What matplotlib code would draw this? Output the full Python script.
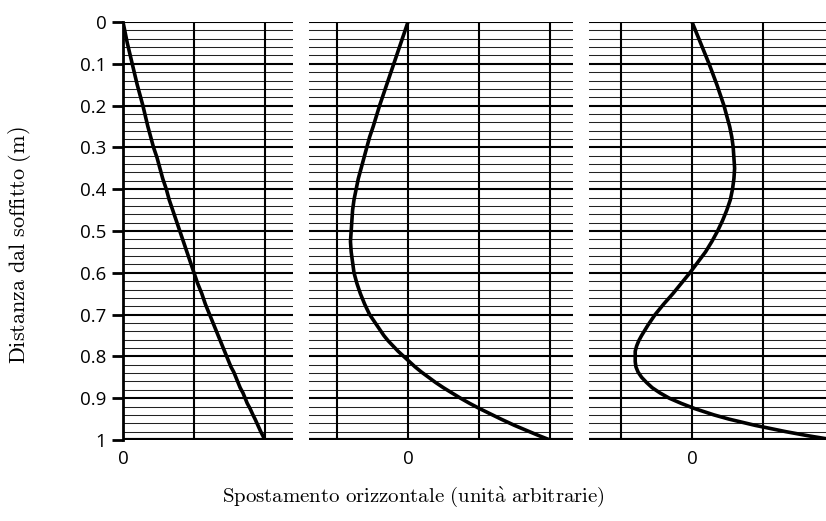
import matplotlib
matplotlib.use("Agg")
import matplotlib.pyplot as plt

plt.rcParams["mathtext.fontset"] = "cm"

# Depth below the ceiling (m)
depth = [0.0, 0.05, 0.1, 0.15, 0.2, 0.25, 0.275, 0.3, 0.325, 0.35, 0.375, 0.4,
         0.425, 0.45, 0.475, 0.5, 0.525, 0.55, 0.575, 0.6, 0.625, 0.65, 0.675,
         0.7, 0.725, 0.75, 0.7625, 0.775, 0.7875, 0.8, 0.8125, 0.825, 0.8375,
         0.85, 0.8625, 0.875, 0.8875, 0.9, 0.9125, 0.925, 0.94, 0.95, 0.965,
         0.98, 0.99, 1.0]

# Horizontal displacement of the first three modes (arbitrary units)
mode1 = [0.00, 0.06, 0.13, 0.20, 0.28, 0.35, 0.39, 0.43, 0.48, 0.52, 0.56, 0.61,
         0.65, 0.70, 0.75, 0.80, 0.85, 0.90, 0.95, 1.00, 1.05, 1.11, 1.16,
         1.22, 1.28, 1.34, 1.37, 1.40, 1.43, 1.46, 1.49, 1.52, 1.56,
         1.59, 1.62, 1.65, 1.69, 1.72, 1.75, 1.79, 1.83, 1.86, 1.90,
         1.94, 1.97, 2.00]
mode2 = [0.00, -0.10, -0.20, -0.30, -0.40, -0.49, -0.54, -0.58, -0.62, -0.66, -0.70, -0.73,
         -0.76, -0.78, -0.79, -0.80, -0.81, -0.80, -0.78, -0.76, -0.72, -0.67, -0.61,
         -0.54, -0.44, -0.34, -0.28, -0.21, -0.14, -0.06, 0.02, 0.10, 0.19,
         0.29, 0.39, 0.50, 0.62, 0.74, 0.87, 1.01, 1.19, 1.31, 1.50,
         1.71, 1.85, 2.00]
mode3 = [0.00, 0.12, 0.24, 0.35, 0.45, 0.53, 0.56, 0.58, 0.59, 0.60, 0.59, 0.57,
         0.54, 0.49, 0.43, 0.36, 0.28, 0.19, 0.08, -0.03, -0.15, -0.27, -0.40,
         -0.52, -0.62, -0.71, -0.75, -0.78, -0.80, -0.80, -0.80, -0.79, -0.76,
         -0.71, -0.64, -0.56, -0.45, -0.32, -0.15, 0.04, 0.31, 0.52, 0.89,
         1.32, 1.64, 2.00]

modes = [mode1, mode2, mode3]
x_limits = [(0.0, 2.394), (-1.394, 2.324), (-1.451, 1.887)]
x_grid = [[0, 1, 2], [-1, 0, 1, 2], [-1, 0, 1]]
y_ticks = [0, 0.1, 0.2, 0.3, 0.4, 0.5, 0.6, 0.7, 0.8, 0.9, 1]
y_ticklabels = ["0", "0.1", "0.2", "0.3", "0.4", "0.5", "0.6", "0.7", "0.8", "0.9", "1"]

W, H = 826, 521
fig = plt.figure(figsize=(W / 100, H / 100), dpi=100)

# panel extents in pixels (left, right)
panel_px = [(123, 293), (309, 573), (589, 826)]
top_px, bot_px = 22, 440

tick_font = {"family": "Open Sans", "size": 13.5}

for i, (mode, (l, r), xl, xg) in enumerate(zip(modes, panel_px, x_limits, x_grid)):
    ax = fig.add_axes([l / W, 1 - bot_px / H, (r - l) / W, (bot_px - top_px) / H])
    ax.set_xlim(*xl)
    ax.set_ylim(1, 0)
    for s in ax.spines.values():
        s.set_visible(False)

    # fine horizontal rulings every 0.02 m, heavier every 0.1 m
    for k in range(51):
        yv = k * 0.02
        if k % 5 == 0:
            ax.axhline(yv, color="black", lw=1.5, zorder=1)
        else:
            ax.axhline(yv, color="#222222", lw=0.75, zorder=1)
    ax.axhline(1.0, color="black", lw=3.0, zorder=2)

    for xv in xg:
        ax.axvline(xv, color="black", lw=1.5, zorder=1)

    ax.plot(mode, depth, color="black", lw=2.6, zorder=3,
            solid_joinstyle="round", solid_capstyle="butt")

    ax.set_xticks([0])
    ax.set_xticklabels(["0"], fontdict=tick_font)
    ax.tick_params(axis="x", length=0, pad=7)

    if i == 0:
        ax.spines["left"].set_visible(True)
        ax.spines["left"].set_linewidth(2.0)
        ax.set_yticks(y_ticks)
        ax.set_yticklabels(y_ticklabels, fontdict=tick_font)
        ax.tick_params(axis="y", length=8, width=2.0, pad=4)
    else:
        ax.set_yticks([])

fig.text(20 / W, 1 - 245 / H, r"$\mathrm{Distanza\ dal\ soffitto\ (m)}$",
         rotation=90, ha="center", va="center", fontsize=16)
fig.text(413 / W, 1 - 497 / H,
         r"$\mathrm{Spostamento\ orizzontale\ (unit\grave{a}\ arbitrarie)}$",
         ha="center", va="center", fontsize=15)

fig.savefig("out.png", dpi=100)
